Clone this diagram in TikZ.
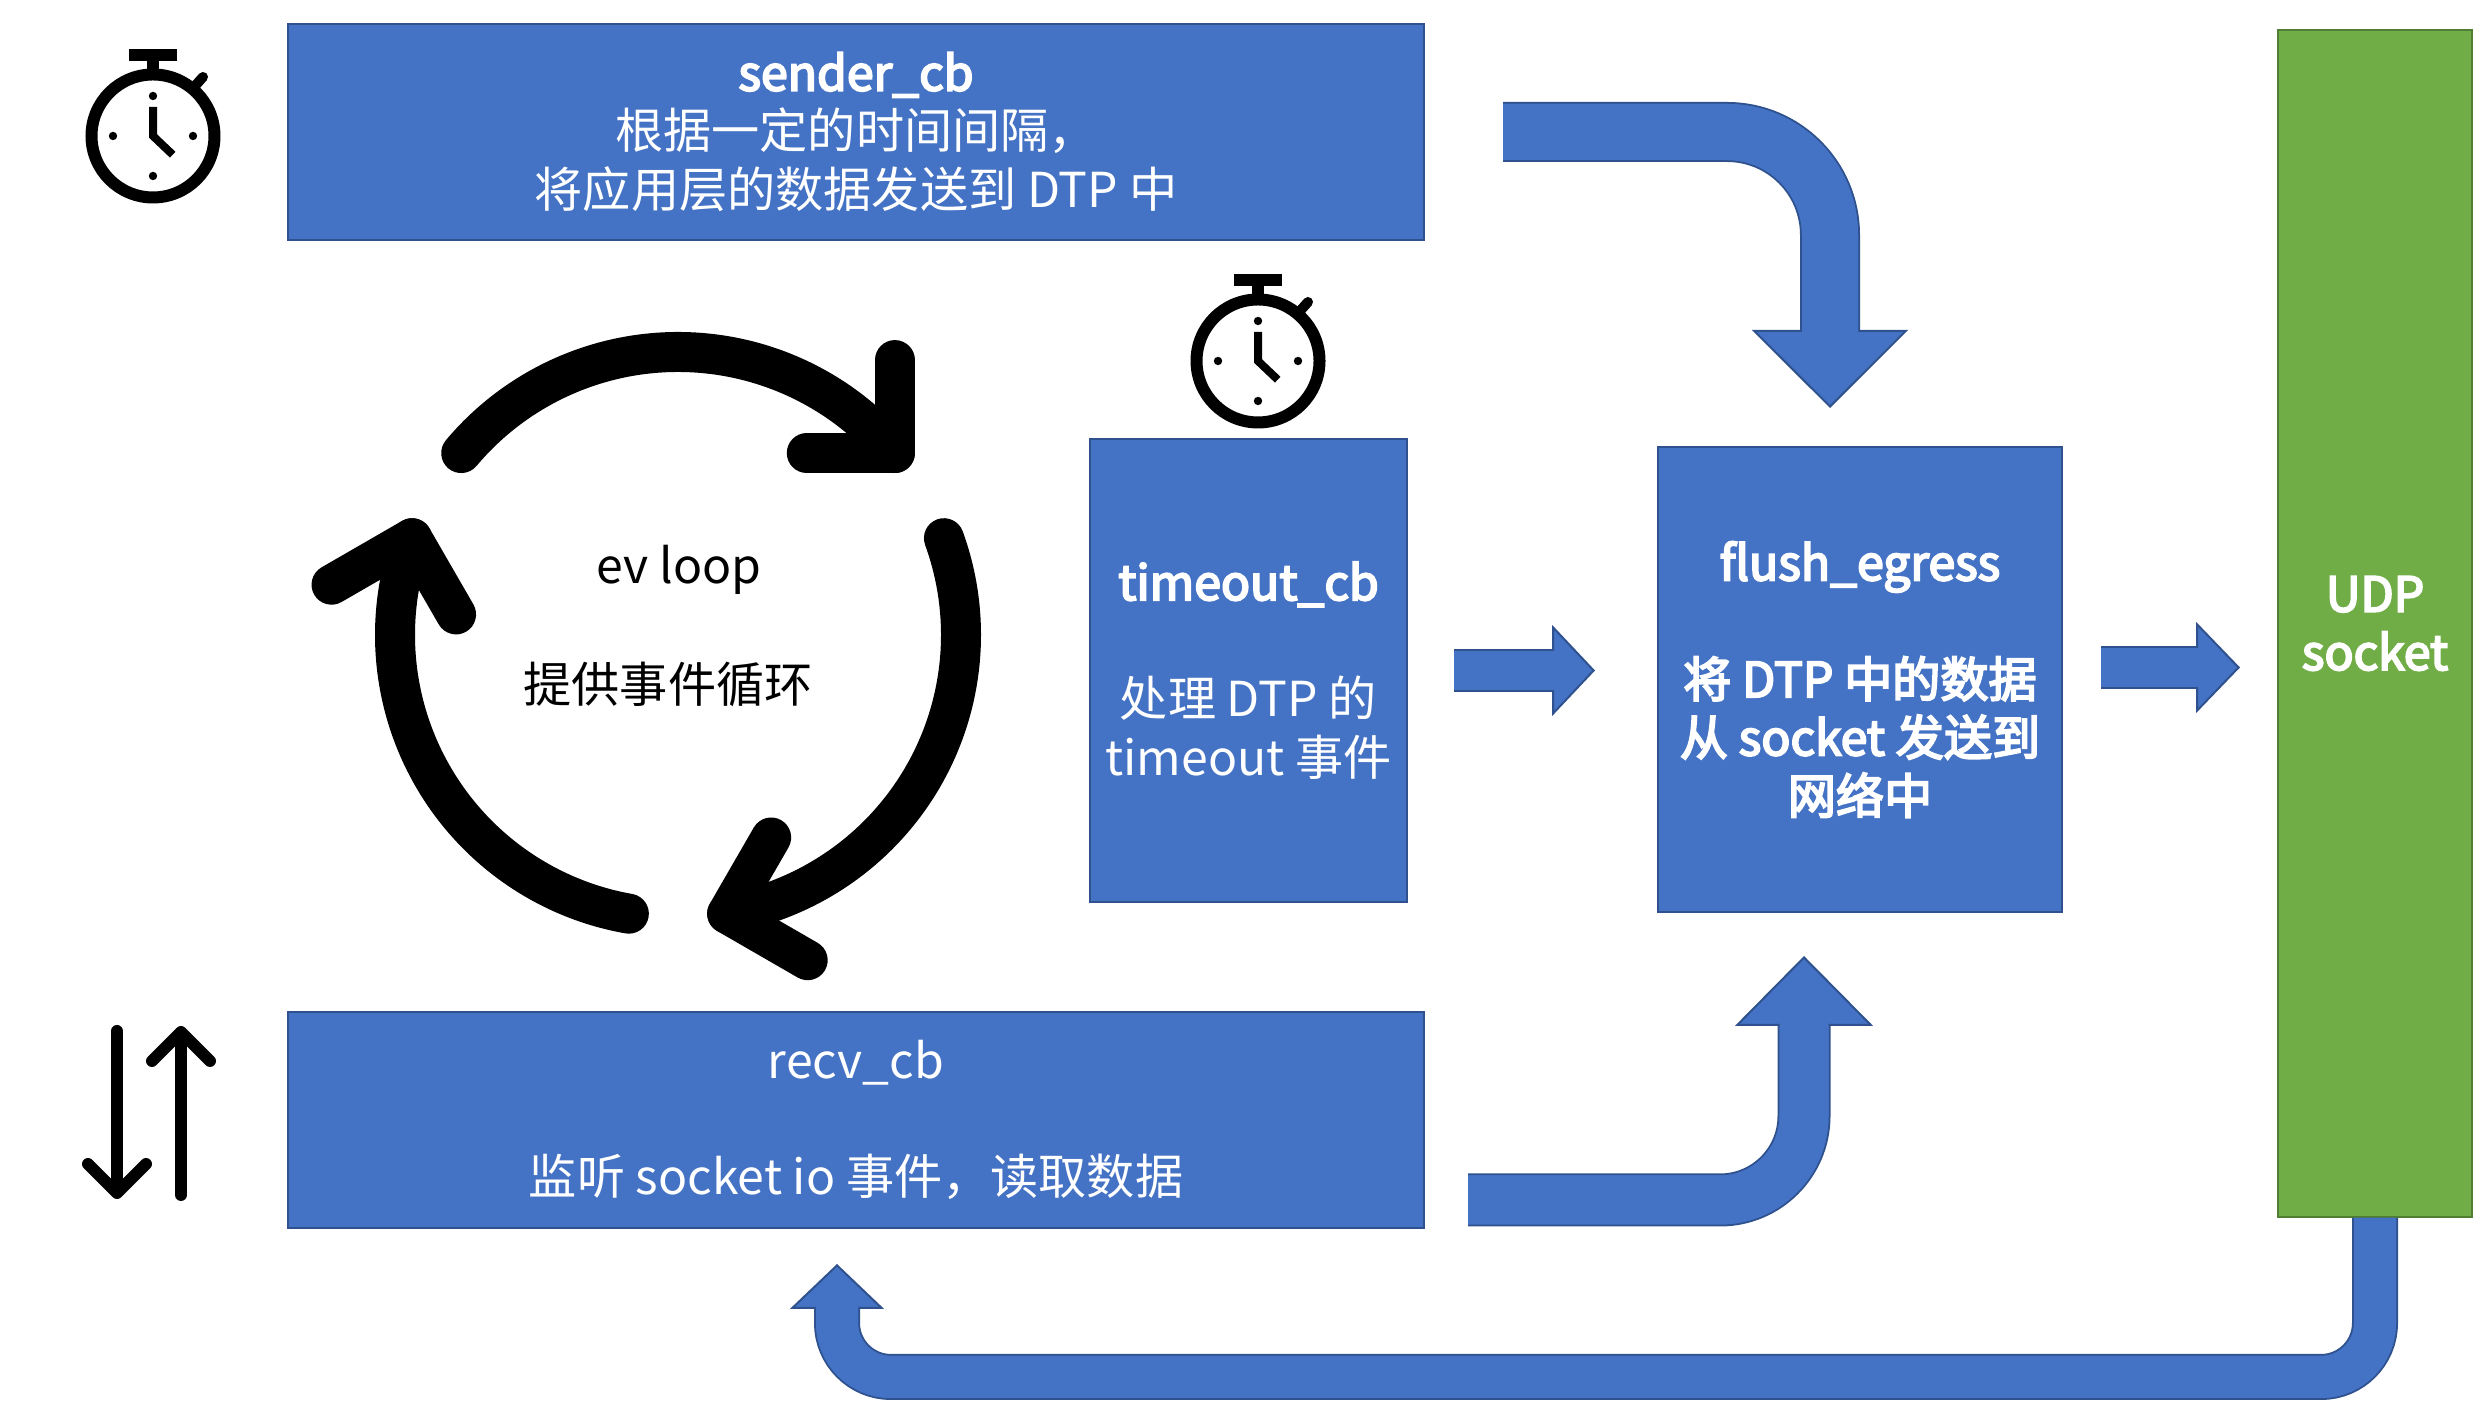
\documentclass[tikz,border=0pt]{standalone}
\usepackage{fontspec}
\setmainfont{Noto Sans CJK SC}
\newfontfamily\semibold{Noto Sans CJK SC}[FakeBold=4]
\usetikzlibrary{arrows.meta,calc}
\definecolor{flowblue}{HTML}{4472C4}
\definecolor{flowline}{HTML}{2F528F}
\definecolor{udpgreen}{HTML}{70AD47}
\definecolor{udpline}{HTML}{507E32}
\tikzset{
  block/.style={draw=flowline,fill=flowblue,line width=.02cm,text=white,align=center,
    inner sep=0pt,font=\fontsize{13.7}{16.6}\selectfont},
  udpblock/.style={block,draw=udpline,fill=udpgreen},
  flow/.style={draw=flowline,line width=.02cm,double=flowblue,line cap=butt},
  % covers the border of the head where the shaft goes in
  flowjoin/.style 2 args={postaction={draw=flowblue,-,line width=#1,shorten >=#2}},
  ioflow/.style={line width=.12cm,line cap=round,-{Straight Barb[length=.29cm,width=.58cm,round]}},
  looptext/.style={font=\fontsize{13.7}{16.6}\selectfont},
  stopwatch/.pic={
    \draw[line width=.12cm] (0,0) circle (.615);
    \fill (-.24,.75) rectangle (.24,.87);
    \fill (-.06,.6) rectangle (.06,.75);
    \draw[line width=.10cm,line cap=round] (.42,.50) -- (.50,.59);
    \foreach \p in {0,90,180,270}
      \fill (\p:.40) circle (.042);
    \draw[line width=.08cm] (0,.29) -- (0,0) -- (.197,-.187);
  }
}
\newcommand{\widecomma}{\char"FF0C\relax}

\begin{document}
\begin{tikzpicture}[>=latex]
\useasboundingbox (0,0) rectangle (24.77,14.09);

\node[block,minimum width=11.36cm,minimum height=2.16cm] (sender) at (8.56,12.77)
  {{\semibold sender\_cb}\\根据一定的时间间隔\widecomma\\将应用层的数据发送到 DTP 中};
\node[block,minimum width=11.36cm,minimum height=2.16cm] (recv) at (8.56,2.89)
  {recv\_cb\\~\\监听 socket io 事件\widecomma 读取数据};
\node[block,minimum width=3.17cm,minimum height=4.63cm] (timeout) at (12.485,7.385)
  {{\semibold timeout\_cb}\\~\\处理 DTP 的\\timeout 事件};
\node[block,minimum width=4.04cm,minimum height=4.65cm] (flush) at (18.60,7.295)
  {{\semibold flush\_egress}\\~\\{\semibold 将 DTP 中的数据}\\{\semibold 从 socket 发送到}\\{\semibold 网络中}};
\node[udpblock,minimum width=1.94cm,minimum height=11.87cm] (udp) at (23.75,7.855)
  {{\semibold UDP}\\{\semibold socket}};

% event loop
\node[looptext] (evloop) at (6.79,8.39) {ev loop};
\node[looptext] (evtext) at (6.68,7.25) {提供事件循环};
\foreach \a in {0,-120,-240} {
\begin{scope}[shift={(6.78,7.74)},rotate=\a,line width=.4cm,line cap=round,line join=round]
  \draw (140:2.83) arc[start angle=140,end angle=40,radius=2.83];
  \draw ($(40:2.83)+(0,.93)$) -- (40:2.83) -- ++(-.88,0);
\end{scope}
}

\pic (watchsend) at (1.53,12.73) {stopwatch};
\pic (watchtime) at (12.58,10.48) {stopwatch};

% socket io arrows
\coordinate (iodowntop) at (1.17,3.78);
\coordinate (iodownend) at (1.17,2.10);
\coordinate (ioupend) at (1.81,3.83);
\coordinate (iouptop) at (1.81,2.14);
\draw[ioflow] (iodowntop) -- (iodownend);
\draw[ioflow] (iouptop) -- (ioupend);

% block arrows
\draw[flow,double distance=.56cm,rounded corners=1.03cm,shorten <=.78cm,shorten >=.38cm,
  flowjoin={.56cm}{1.13cm},
  -{Triangle[length=.78cm,width=1.56cm,fill=flowblue,line width=.02cm]}]
  (sender.east) -| ([xshift=-.30cm]flush.north);
\draw[flow,double distance=.49cm,rounded corners=.84cm,shorten <=.43cm,shorten >=.43cm,
  flowjoin={.49cm}{1.10cm},
  -{Triangle[length=.70cm,width=1.38cm,fill=flowblue,line width=.02cm]}]
  ([yshift=-.80cm]recv.east) -| ([xshift=-.56cm]flush.south);
\draw[flow,double distance=.39cm,shorten <=.46cm,shorten >=.62cm,
  flowjoin={.39cm}{1.02cm},
  -{Triangle[length=.43cm,width=.91cm,fill=flowblue,line width=.02cm]}]
  (timeout.east) -- (timeout.east -| flush.west);
\draw[flow,double distance=.39cm,shorten <=.38cm,shorten >=.37cm,
  flowjoin={.39cm}{.78cm},
  -{Triangle[length=.44cm,width=.91cm,fill=flowblue,line width=.02cm]}]
  ([yshift=.12cm]flush.east) -- ([yshift=.12cm]flush.east -| udp.west);
\coordinate (recvin) at ([xshift=-.19cm]recv.south);
\coordinate (loopcorner) at (recvin |- 0,.32);
\draw[flow,double distance=.42cm,rounded corners=.54cm,shorten >=.35cm,
  flowjoin={.42cm}{.77cm},
  -{Triangle[length=.45cm,width=.94cm,fill=flowblue,line width=.02cm]}]
  (udp.south) |- (loopcorner) -- (recvin);
\end{tikzpicture}
\end{document}
